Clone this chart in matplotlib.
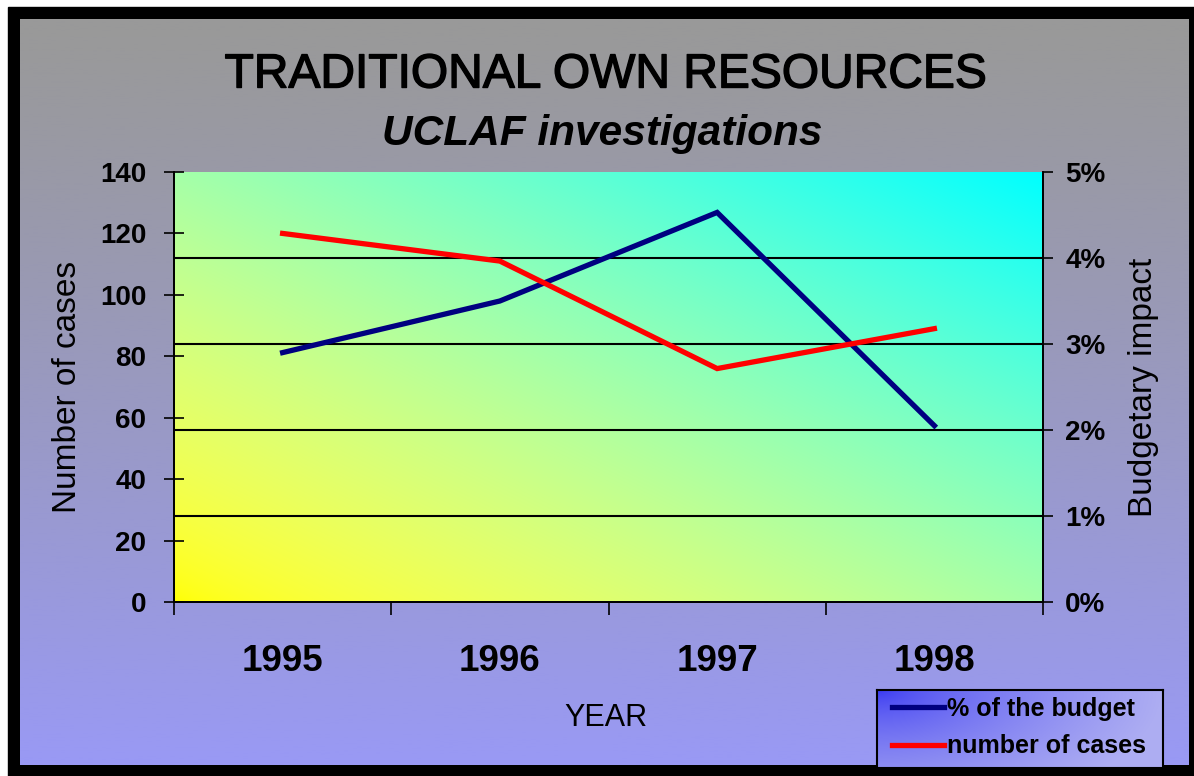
import numpy as np
import matplotlib.pyplot as plt
import matplotlib.patheffects as pe
from matplotlib.lines import Line2D

plt.rcParams['font.family'] = ['Liberation Sans', 'DejaVu Sans']

# --- Data ---
years = ["1995", "1996", "1997", "1998"]
cases = [120, 111, 76, 89]
budget_pct = [2.9, 3.5, 4.53, 2.05]

W, H = 1194, 776
fig = plt.figure(figsize=(W / 100, H / 100), dpi=100)


def px_axes(x0, y0, x1, y1):
    """Axes rectangle from pixel coords (top-left origin)."""
    return [x0 / W, 1 - y1 / H, (x1 - x0) / W, (y1 - y0) / H]


# --- Background: white margin, black frame, gray-to-lavender gradient ---
bg = fig.add_axes([0, 0, 1, 1], zorder=-10)
bg.set_xlim(0, W)
bg.set_ylim(H, 0)
bg.axis("off")
bg.add_patch(plt.Rectangle((8, 7), W - 8, H - 7, color="black"))
t = np.linspace(0, 1, 256)[:, None]
grad = np.zeros((256, 1, 3))
grad[..., 0] = 0.60
grad[..., 1] = 0.60
grad[..., 2] = 0.60 + 0.36 * t ** 1.2
bg.imshow(grad, extent=(20, 1189, 765, 19), aspect="auto", zorder=1)

# --- Main axes: ax = percent (right), ax2 = cases (left, on top) ---
ax = fig.add_axes(px_axes(174, 172, 1043, 602))
ax2 = ax.twinx()
xs = np.arange(len(years))
ax.set_xlim(-0.5, len(years) - 0.5)

# plot area gradient yellow (bottom-left) -> cyan (top-right)
u = np.linspace(0, 1, 300)
U, V = np.meshgrid(u, u)
d = np.clip((U + V) / 2, 0, 1)
area = np.zeros((300, 300, 3))
area[..., 0] = 1 - d ** 1.5
area[..., 1] = 1
area[..., 2] = d ** 0.6
ax.imshow(area, extent=(0, 1, 0, 1), transform=ax.transAxes, origin="lower",
          aspect="auto", zorder=0)

ax.set_ylim(0, 5)
ax.set_yticks(range(0, 6))
ax.set_yticklabels([f"{v}%" for v in range(0, 6)])
for v in [1, 2, 3, 4]:
    ax.axhline(v, color="black", linewidth=1.5, zorder=1)
ax.plot(xs, budget_pct, color="#000080", linewidth=3.8, zorder=3,
        solid_joinstyle="miter")

# x axis: boundary ticks, labels centred on categories
ax.set_xticks(np.arange(-0.5, len(years), 1.0))
ax.set_xticklabels([])
ax.set_xticks(xs, minor=True)
ax.set_xticklabels(years, minor=True, fontsize=26.5, fontweight="bold")
ax.tick_params(axis="x", which="major", direction="out", length=9, width=1.2)
ax.tick_params(axis="x", which="minor", length=0, pad=30)

ax2.set_ylim(0, 140)
ax2.set_yticks(range(0, 141, 20))
ax2.plot(xs, cases, color="#ff0000", linewidth=3.8, zorder=3,
         solid_joinstyle="miter")

# put the axes on their sides (after twinx)
ax.yaxis.tick_right()
ax.yaxis.set_label_position("right")
ax2.yaxis.tick_left()
ax2.yaxis.set_label_position("left")

ax.set_ylabel("Budgetary impact", fontsize=24)
ax.yaxis.set_label_coords(1.098, 0.5)
ax.tick_params(axis="y", direction="out", length=7, width=1.2, pad=9,
               labelsize=20, left=False, labelleft=False,
               right=True, labelright=True)
ax2.set_ylabel("Number of cases", fontsize=24)
ax2.yaxis.set_label_coords(-0.105, 0.5)
ax2.tick_params(axis="y", direction="inout", length=14, width=1.2, pad=13,
                labelsize=20, right=False, labelright=False,
                left=True, labelleft=True)
for lab in ax.get_yticklabels() + ax2.get_yticklabels():
    lab.set_fontweight("bold")

for a in (ax, ax2):
    a.spines["top"].set_visible(False)
    for s in ("left", "right", "bottom"):
        a.spines[s].set_linewidth(1.3)

# --- Titles ---
fig.text(605 / W, 1 - 75 / H, "TRADITIONAL OWN RESOURCES", fontsize=34.5,
         ha="center", va="center",
         path_effects=[pe.withStroke(linewidth=1.0, foreground="black")])
fig.text(602 / W, 1 - 134 / H, "UCLAF investigations", fontsize=30.5,
         fontweight="bold", fontstyle="italic", ha="center", va="center")
fig.text(606 / W, 1 - 718 / H, "YEAR", fontsize=22, ha="center", va="center")

# --- Legend with gradient background ---
lax = fig.add_axes(px_axes(877, 690, 1163, 768), zorder=5)
g = np.linspace(0, 1, 200)
GX, GY = np.meshgrid(g, g)
r = np.clip(np.sqrt((GX * 1.0) ** 2 + (GY * 0.6) ** 2), 0, 1) ** 0.6
lg = np.zeros((200, 200, 3))
lg[..., 0] = 0.20 + 0.48 * r
lg[..., 1] = 0.20 + 0.48 * r
lg[..., 2] = 0.95
lax.imshow(lg, extent=(0, 1, 0, 1), origin="upper", aspect="auto")
lax.set_xlim(0, 1)
lax.set_ylim(0, 1)
lax.set_xticks([])
lax.set_yticks([])
for s in lax.spines.values():
    s.set_linewidth(1.5)
handles = [Line2D([], [], color="#000080", linewidth=3.8),
           Line2D([], [], color="#ff0000", linewidth=3.8)]
lax.legend(handles, ["% of the budget", "number of cases"], loc="upper left",
           bbox_to_anchor=(-0.01, 1.14), frameon=False,
           prop={"weight": "bold", "size": 18}, handlelength=2.1,
           handletextpad=0.12, labelspacing=0.55, borderaxespad=0.3)

fig.savefig("out.png", dpi=100)
